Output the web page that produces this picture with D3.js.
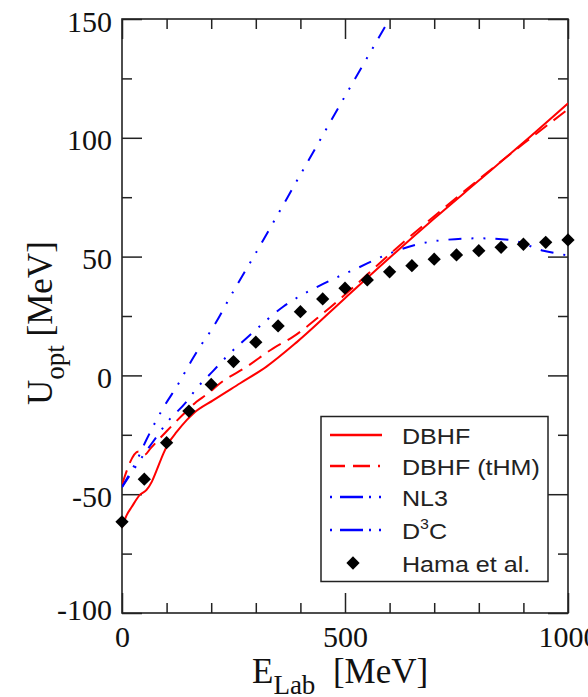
<!DOCTYPE html>
<html><head><meta charset="utf-8">
<script src="https://cdn.jsdelivr.net/npm/d3@7"></script>
<style>body{margin:0;background:#fff} svg{display:block}</style>
</head><body>
<svg id="c" width="588" height="697"></svg>
<script>
// ---- data ----
const hamaE = [0,50,100,150,200,250,300,350,400,450,500,550,600,650,700,750,800,850,900,950,1000];
const hamaU = [-61.6,-43.7,-28.3,-15,-3.8,5.8,14,20.8,26.8,32.2,36.7,40.2,43.6,46.2,48.9,50.7,52.5,53.9,55.2,56,57];

const dbhfE = [0,10,22,40,55,67,78,93,104,123,145,160,205,265,324,392,500,600,700,800,900,1000];
const dbhfU = [-64,-59,-55.3,-50.3,-48.2,-44.7,-39.8,-32.8,-28.6,-23.7,-18.8,-16,-10.4,-3.3,3.7,14,32.5,49.5,66,82,98,114.5];

const thmE = [0,37,50,65,100,145,167,190,220,280,339,384,450,500,600,700,800,900,1000];
const thmU = [-46,-32,-33.5,-30.5,-23.5,-15,-11.1,-8,-3.3,3.7,11.4,16.3,26,34,51,67,82.5,97.5,112];

const nl3E = [0,30,55,93,125,160,180,200,250,300,400,500,600];
const nl3U = [-47,-37,-27,-13.5,-4,7.5,13.5,19,35.5,51.5,84.5,117.5,150];

const d3cE = [0,25,50,75,100,145,165,205,235,290,362,451,526,601,700,800,870,945,1000];
const d3cU = [-47,-40,-33,-26.5,-20,-11,-6,2,8,17.5,29,38.5,45,51.4,56.5,57.7,57,52.5,50.5];

const xMajor = [0,500,1000];
const xMinor = [100,200,300,400,600,700,800,900];
const yMajor = [-100,-50,0,50,100,150];
const yMinor = [-75,-25,25,75,125];
const legendLabels = ["DBHF","DBHF (tHM)","NL3","D3C","Hama et al."];

// ---- layout ----
const L=122, R=568, T=19, B=613;
const svg = d3.select("#c");
const x = d3.scaleLinear([0,1000],[L,R]);
const y = d3.scaleLinear([-100,150],[B,T]);
const ink = "#222";

svg.append("defs").append("clipPath").attr("id","clip")
  .append("rect").attr("x",L).attr("y",T).attr("width",R-L).attr("height",B-T);

function axis(gen, vals, len, transform, labels, pad){
  const a = gen.tickValues(vals).tickSizeInner(-len).tickSizeOuter(0).tickPadding(pad||0);
  a.tickFormat(labels ? (d => String(d)) : "");
  const g = svg.append("g").attr("transform",transform).call(a);
  g.select(".domain").remove();
  g.selectAll(".tick line").attr("stroke",ink).attr("stroke-width",1.5);
  g.selectAll("text").attr("font-family","'Liberation Serif','Times New Roman',serif")
    .attr("font-size",30).attr("fill","#111");
  return g;
}
// bottom
axis(d3.axisBottom(x), xMajor, 20, `translate(0,${B})`, true, 12.7);
axis(d3.axisBottom(x), xMinor, 10, `translate(0,${B})`, false);
// top
axis(d3.axisTop(x), xMajor, 20, `translate(0,${T})`, false);
axis(d3.axisTop(x), xMinor, 10, `translate(0,${T})`, false);
// left
const gl = axis(d3.axisLeft(y), yMajor, 20, `translate(${L},0)`, true, 10);
gl.selectAll("text").attr("dy", d => d===-100 ? "0.22em" : "0.4em");
axis(d3.axisLeft(y), yMinor, 10, `translate(${L},0)`, false);
// right
axis(d3.axisRight(y), yMajor, 20, `translate(${R},0)`, false);
axis(d3.axisRight(y), yMinor, 10, `translate(${R},0)`, false);

// frame
svg.append("rect").attr("x",L).attr("y",T).attr("width",R-L).attr("height",B-T)
  .attr("fill","none").attr("stroke",ink).attr("stroke-width",1.6);

// ---- curves ----
const line = d3.line().x(d=>x(d[0])).y(d=>y(d[1])).curve(d3.curveMonotoneX);
const plot = svg.append("g").attr("clip-path","url(#clip)");
const dashDotDot = "13 10 2 10 2 10";
const series = [
  {E:dbhfE, U:dbhfU, color:"#ff0000", dash:null},
  {E:thmE,  U:thmU,  color:"#ff0000", dash:"15 8"},
  {E:nl3E,  U:nl3U,  color:"#0000ff", dash:dashDotDot},
  {E:d3cE,  U:d3cU,  color:"#0000ff", dash:dashDotDot},
];
series.forEach(s=>{
  plot.append("path").datum(s.E.map((e,i)=>[e,s.U[i]]))
    .attr("d",line).attr("fill","none").attr("stroke",s.color)
    .attr("stroke-width",2).attr("stroke-dasharray",s.dash);
});
const diamond = d3.symbol(d3.symbolSquare, 88);
svg.append("g").selectAll("path").data(hamaE.map((e,i)=>[e,hamaU[i]])).join("path")
  .attr("d",diamond).attr("fill","#000")
  .attr("transform",d=>`translate(${x(d[0])},${y(d[1])}) rotate(45)`);

// ---- axis titles ----
const serif = "'Liberation Serif','Times New Roman',serif";
const xt = svg.append("text").attr("x",252).attr("y",683)
  .attr("font-family",serif).attr("font-size",35).attr("fill","#111").style("white-space","pre");
xt.append("tspan").text("E");
xt.append("tspan").attr("font-size",27).attr("dy",11).text("Lab");
xt.append("tspan").attr("dy",-11).text("  [MeV]");

const yt = svg.append("text").attr("transform","translate(52,405) rotate(-90)")
  .attr("font-family",serif).attr("font-size",35).attr("fill","#111").style("white-space","pre");
yt.append("tspan").text("U");
yt.append("tspan").attr("font-size",27).attr("dy",12).text("opt");
yt.append("tspan").attr("dy",-12).text(" [MeV]");

// ---- legend ----
const lg = svg.append("g");
lg.append("rect").attr("x",321).attr("y",416.5).attr("width",227).attr("height",165)
  .attr("fill","#fff").attr("stroke",ink).attr("stroke-width",1.5);
const rowY = [435,466,497,530,563];
const legDash = [null,"15 8 17 8 2 50","2 8 23 6 2 8 2 50","2 8 23 6 2 8 2 50",null];
const legColor = ["#ff0000","#ff0000","#0000ff","#0000ff",null];
legendLabels.forEach((lab,i)=>{
  const yy = rowY[i];
  if(i<4){
    lg.append("line").attr("x1",330).attr("x2",382).attr("y1",yy).attr("y2",yy)
      .attr("stroke",legColor[i]).attr("stroke-width",2.5).attr("stroke-dasharray",legDash[i]);
  } else {
    lg.append("path").attr("d",diamond).attr("fill","#000")
      .attr("transform",`translate(353,${yy}) rotate(45)`);
  }
  const t = lg.append("text").attr("transform",`translate(402,${yy+8.5}) scale(1.14,1)`)
    .attr("font-family","'Liberation Sans',Arial,sans-serif").attr("font-size",22).attr("fill","#222");
  if(lab==="D3C"){
    t.append("tspan").text("D");
    t.append("tspan").attr("font-size",14).attr("dy",-10).text("3");
    t.append("tspan").attr("dy",10).text("C");
  } else t.text(lab);
});
</script>
</body></html>
